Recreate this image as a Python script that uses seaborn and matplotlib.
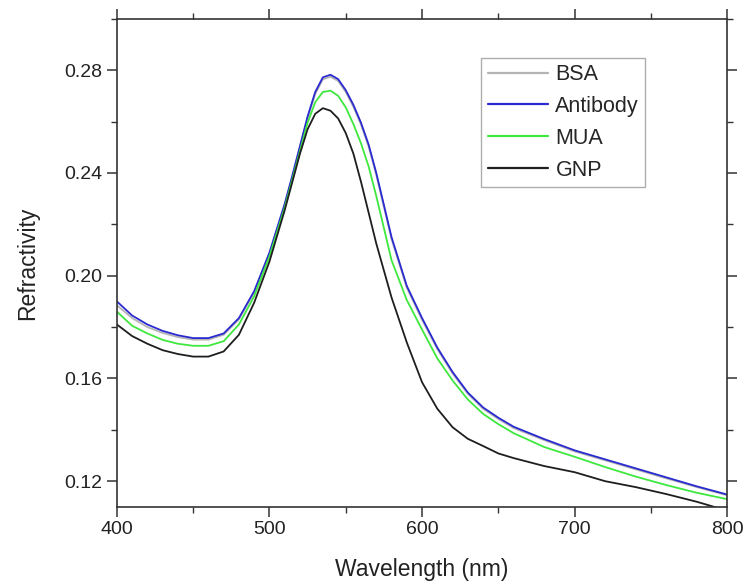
import numpy as np
import pandas as pd
import matplotlib
matplotlib.use("Agg")
import matplotlib.pyplot as plt
from matplotlib.ticker import MultipleLocator
import seaborn as sns

wavelength = [400, 410, 420, 430, 440, 450, 460, 470, 480, 490, 500, 510, 515, 520,
              525, 530, 535, 540, 545, 550, 555, 560, 565, 570, 580, 590, 600, 610,
              620, 630, 640, 650, 660, 680, 700, 720, 740, 760, 780, 800]

antibody = [0.190, 0.1845, 0.181, 0.1785, 0.1768, 0.1757, 0.1757, 0.1775, 0.1835, 0.194,
            0.209, 0.228, 0.239, 0.2505, 0.262, 0.2715, 0.2772, 0.2782, 0.2765, 0.2722,
            0.2665, 0.2595, 0.2510, 0.2400, 0.2150, 0.1960, 0.1835, 0.1720, 0.1625, 0.1545,
            0.1487, 0.1447, 0.1412, 0.1364, 0.1320, 0.1285, 0.1250, 0.1215, 0.1180, 0.1148]

bsa = [0.1885, 0.1835, 0.1800, 0.1777, 0.1761, 0.1751, 0.1751, 0.1770, 0.1830, 0.1935,
       0.2085, 0.2275, 0.2385, 0.2500, 0.2613, 0.2707, 0.2764, 0.2774, 0.2758, 0.2715,
       0.2657, 0.2588, 0.2502, 0.2392, 0.2142, 0.1953, 0.1828, 0.1714, 0.1619, 0.1540,
       0.1482, 0.1442, 0.1407, 0.1360, 0.1316, 0.1281, 0.1246, 0.1211, 0.1177, 0.1145]

mua = [0.186, 0.1805, 0.1775, 0.1750, 0.1735, 0.1727, 0.1727, 0.1745, 0.1810, 0.1920,
       0.2075, 0.2265, 0.2375, 0.2485, 0.2595, 0.2675, 0.2715, 0.2720, 0.2700, 0.2655,
       0.2590, 0.2515, 0.2425, 0.2310, 0.2060, 0.1905, 0.1790, 0.1678, 0.1592, 0.1518,
       0.1462, 0.1422, 0.1387, 0.1333, 0.1295, 0.1255, 0.1218, 0.1185, 0.1155, 0.1130]

gnp = [0.181, 0.1765, 0.1735, 0.1710, 0.1695, 0.1685, 0.1685, 0.1705, 0.1770, 0.1895,
       0.2055, 0.2255, 0.2365, 0.2475, 0.2570, 0.2630, 0.2652, 0.2642, 0.2612, 0.2555,
       0.2475, 0.2365, 0.2245, 0.2125, 0.1915, 0.1740, 0.1585, 0.1482, 0.1410, 0.1365,
       0.1337, 0.1308, 0.1290, 0.1259, 0.1235, 0.1200, 0.1177, 0.1150, 0.1120, 0.1085]

series_names = ["BSA", "Antibody", "MUA", "GNP"]
series_values = [bsa, antibody, mua, gnp]
colors = {"BSA": "#b4b4b4", "Antibody": "#2a2ad0", "MUA": "#3ee83e", "GNP": "#1e1e1e"}

rows = []
for name, vals in zip(series_names, series_values):
    for w, v in zip(wavelength, vals):
        rows.append({"Wavelength": w, "Refractivity": v, "Series": name})
df = pd.DataFrame(rows)

sns.set_style("ticks")
plt.rcParams["font.family"] = ["Liberation Sans", "DejaVu Sans"]

fig = plt.figure(figsize=(7.49, 5.86), dpi=100)
ax = fig.add_axes([0.156, 0.135, 0.815, 0.833])

sns.lineplot(data=df, x="Wavelength", y="Refractivity", hue="Series",
             hue_order=series_names, palette=colors, linewidth=1.3, ax=ax,
             estimator=None, sort=False)

ax.set_xlim(400, 800)
ax.set_ylim(0.11, 0.30)
ax.xaxis.set_major_locator(MultipleLocator(100))
ax.xaxis.set_minor_locator(MultipleLocator(50))
ax.set_yticks([0.12, 0.16, 0.20, 0.24, 0.28])
ax.yaxis.set_minor_locator(MultipleLocator(0.02))
ax.yaxis.set_major_formatter(matplotlib.ticker.FormatStrFormatter("%.2f"))

for s in ax.spines.values():
    s.set_visible(True)
    s.set_color("#333333")
    s.set_linewidth(1.2)

ax.tick_params(which="both", direction="out", top=True, right=True,
               labeltop=False, labelright=False, colors="#333333")
ax.tick_params(which="major", length=7, width=1.1, labelsize=14, labelcolor="#222222")
ax.tick_params(which="minor", length=4, width=1.0)

ax.set_xlabel("Wavelength (nm)", fontsize=16.5, color="#222222", labelpad=14)
ax.set_ylabel("Refractivity", fontsize=16.5, color="#222222", labelpad=18)

leg = ax.legend(loc="upper right", bbox_to_anchor=(0.866, 0.92), fontsize=15.5,
                frameon=True, fancybox=False, edgecolor="#999999",
                handlelength=2.8, handletextpad=0.35, borderpad=0.3,
                labelspacing=0.5, borderaxespad=0.0, title=None)
leg.get_frame().set_linewidth(1.0)
for line in leg.get_lines():
    line.set_linewidth(1.6)

fig.savefig("out.png", dpi=100, facecolor="white")
